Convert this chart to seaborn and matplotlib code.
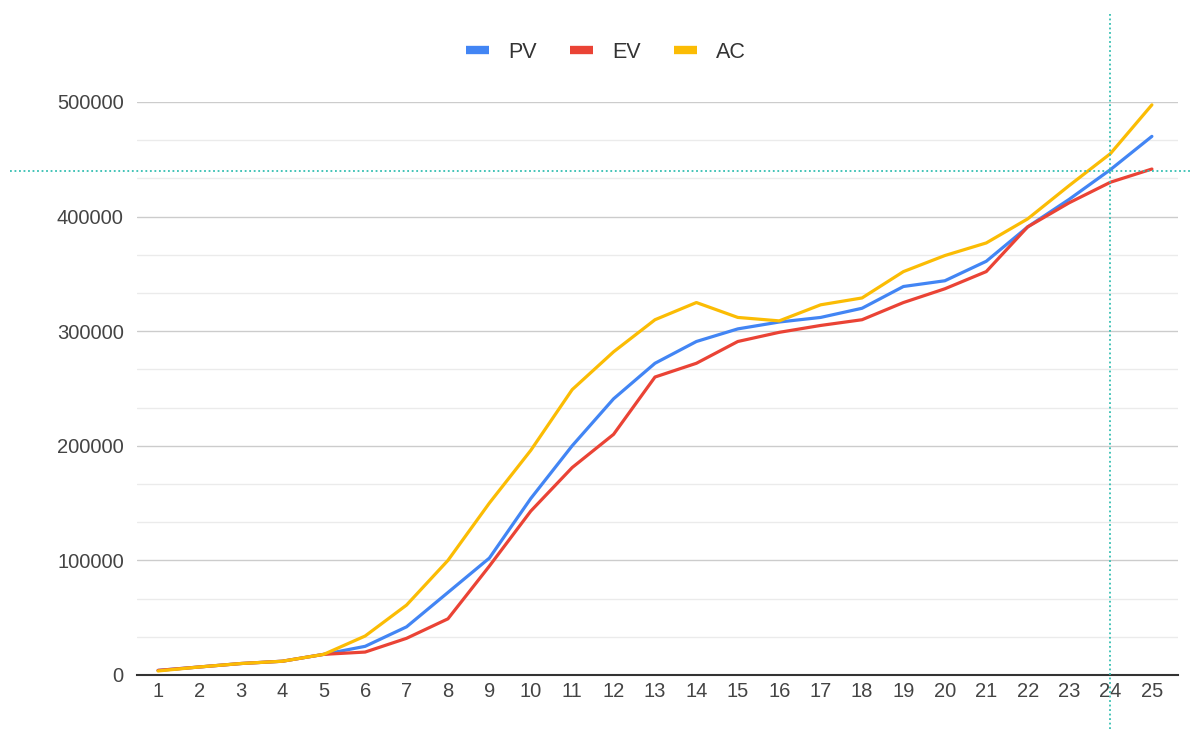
import matplotlib

matplotlib.use("Agg")

import matplotlib.pyplot as plt
import pandas as pd
import seaborn as sns
from matplotlib.lines import Line2D
from matplotlib.ticker import FixedLocator, MultipleLocator

# periods 1..25
periods = list(range(1, 26))

pv = [4000, 7000, 10000, 12000, 18000, 25000, 42000, 72000, 102000, 154000,
      200000, 241000, 272000, 291000, 302000, 308000, 312000, 320000, 339000,
      344000, 361000, 391000, 415000, 441000, 470000]
ev = [4000, 7000, 10000, 12000, 18000, 20000, 32000, 49000, 95000, 143000,
      181000, 210000, 260000, 272000, 291000, 299000, 305000, 310000, 325000,
      337000, 352000, 391000, 412000, 430000, 441500]
ac = [3500, 7000, 10000, 12000, 18000, 34000, 61000, 100000, 150000, 196000,
      249000, 282000, 310000, 325000, 312000, 309000, 323000, 329000, 352000,
      366000, 377000, 398000, 427000, 455000, 497500]

series_names = ["PV", "EV", "AC"]
series_colors = ["#4285F4", "#EA4335", "#FBBC04"]

# crosshair position (hover marker in the original)
cross_x = 24
cross_y = 440000

y_ticks = [0, 100000, 200000, 300000, 400000, 500000]

df = pd.DataFrame({"period": periods, "PV": pv, "EV": ev, "AC": ac})
long_df = df.melt(id_vars="period", var_name="series", value_name="value")

sns.set_theme(style="white")
plt.rcParams["font.family"] = ["Liberation Sans", "DejaVu Sans"]

fig = plt.figure(figsize=(11.9, 7.29), dpi=100)
ax = fig.add_axes([0.1151, 0.0741, 0.8748, 0.786])

sns.lineplot(
    data=long_df,
    x="period",
    y="value",
    hue="series",
    hue_order=series_names,
    palette=series_colors,
    linewidth=2.3,
    legend=False,
    ax=ax,
    zorder=3,
)
for line in ax.lines:
    line.set_clip_on(False)
    line.set_solid_capstyle("round")
    line.set_solid_joinstyle("round")

ax.set_xlim(0.49, 25.63)
ax.set_ylim(0, 500000)

ax.yaxis.set_major_locator(FixedLocator(y_ticks))
ax.yaxis.set_minor_locator(MultipleLocator(100000 / 3))
ax.xaxis.set_major_locator(FixedLocator(periods))
ax.set_xticklabels([str(p) for p in periods])
ax.set_yticklabels([str(t) for t in y_ticks])

ax.grid(which="major", axis="y", color="#cccccc", linewidth=1.0, zorder=0)
ax.grid(which="minor", axis="y", color="#ebebeb", linewidth=1.0, zorder=0)
ax.grid(which="major", axis="x", visible=False)

for side in ["top", "right", "left"]:
    ax.spines[side].set_visible(False)
ax.spines["bottom"].set_color("#333333")
ax.spines["bottom"].set_linewidth(1.5)
ax.spines["bottom"].set_zorder(4)

ax.tick_params(axis="both", which="both", length=0, labelsize=14.5, colors="#444444")
ax.tick_params(axis="y", pad=9.5)
ax.tick_params(axis="x", pad=5)
ax.set_xlabel("")
ax.set_ylabel("")

# dotted crosshair
cross_color = "#35bfb2"
ax.axvline(cross_x, ymin=-0.094, ymax=1.157, color=cross_color, linestyle=(0, (1, 1.5)),
           linewidth=1.3, clip_on=False, zorder=5)
ax.axhline(cross_y, xmin=-0.122, xmax=1.012, color=cross_color, linestyle=(0, (1, 1.5)),
           linewidth=1.3, clip_on=False, zorder=5)

handles = []
for c in series_colors:
    h = Line2D([0], [0], color=c, linewidth=6)
    h.set_solid_capstyle("butt")
    handles.append(h)
fig.legend(
    handles,
    series_names,
    loc="center",
    bbox_to_anchor=(0.509, 0.928),
    ncol=3,
    frameon=False,
    fontsize=15.5,
    handlelength=1.1,
    handletextpad=0.85,
    columnspacing=1.55,
    labelcolor="#333333",
)

fig.savefig("out.png", dpi=100, facecolor="white")
